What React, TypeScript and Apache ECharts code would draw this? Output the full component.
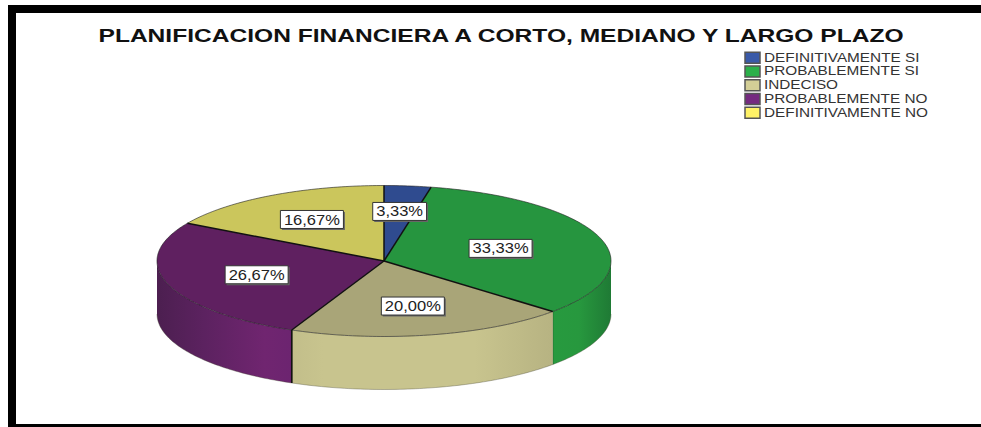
import React, { useEffect, useRef } from "react";
import * as echarts from "echarts";

const TITLE = "PLANIFICACION FINANCIERA A CORTO, MEDIANO Y LARGO PLAZO";
const categories = ["DEFINITIVAMENTE SI", "PROBABLEMENTE SI", "INDECISO", "PROBABLEMENTE NO", "DEFINITIVAMENTE NO"];
const values = [3.33, 33.33, 20.0, 26.67, 16.67];
const labels = ["3,33%", "33,33%", "20,00%", "26,67%", "16,67%"];
const labelRadius = [0.66, 0.54, 0.61, 0.59, 0.635];
const legendColors = ["#3a5aa8", "#2bb04a", "#d3ce96", "#752a80", "#fff266"];
const topColors = ["#2f4b8f", "#26953f", "#a9a578", "#5f2060", "#cbc65c"];
const wallStops: [number, string][][] = [
  [[0, "#2f4b8f"], [1, "#2f4b8f"]],
  [[0, "#279a3f"], [0.45, "#27983e"], [1, "#1f7a35"]],
  [[0, "#c2be8a"], [0.12, "#c8c48e"], [0.7, "#c8c48e"], [1, "#b7b382"]],
  [[0, "#4c1f50"], [0.35, "#5c2260"], [0.8, "#702570"], [1, "#6c2470"]],
  [[0, "#cbc65c"], [1, "#cbc65c"]],
];

const W = 981, H = 427;
const CX = 384, CY = 261, RX = 227, RY = 75.5, DEPTH = 53;
const FONT = "Liberation Sans";
const LABEL_FONT = 14, LABEL_SCALE = 1.18;

const total = values.reduce((a, b) => a + b, 0);
const starts = values.map((_, i) => (values.slice(0, i).reduce((a, b) => a + b, 0) / total) * 360);
const ends = values.map((v, i) => starts[i] + (v / total) * 360);
const rad = (d: number) => (d * Math.PI) / 180;
const px = (a: number, f = 1) => CX + RX * f * Math.sin(rad(a));
const py = (a: number, f = 1) => CY - RY * f * Math.cos(rad(a));

function arc(a0: number, a1: number, dy = 0) {
  const pts: number[][] = [];
  const n = Math.max(2, Math.ceil(Math.abs(a1 - a0)));
  for (let k = 0; k <= n; k++) {
    const a = a0 + ((a1 - a0) * k) / n;
    pts.push([px(a), py(a) + dy]);
  }
  return pts;
}

function renderWall(params: any) {
  const i = params.dataIndex;
  const a0 = Math.max(starts[i], 90), a1 = Math.min(ends[i], 270);
  if (a1 <= a0) return { type: "group", children: [] };
  const points = [...arc(a0, a1), ...arc(a1, a0, DEPTH)];
  const children: any[] = [{
    type: "polygon",
    shape: { points },
    style: {
      fill: new echarts.graphic.LinearGradient(0, 0, 1, 0, wallStops[i].map(([offset, color]) => ({ offset, color }))),
      stroke: "none",
    },
  }, {
    type: "polyline",
    shape: { points: arc(a0, a1, DEPTH) },
    style: { fill: "none", stroke: "rgba(70,70,50,0.45)", lineWidth: 0.8 },
  }];
  if (ends[i] < 270) {
    children.push({
      type: "line",
      shape: { x1: px(a1), y1: py(a1), x2: px(a1), y2: py(a1) + DEPTH },
      style: { stroke: "rgba(30,40,20,0.6)", lineWidth: 1 },
    });
  } else if (starts[i] > 90 && starts[i] < 270) {
    children.push({
      type: "line",
      shape: { x1: px(a0), y1: py(a0), x2: px(a0), y2: py(a0) + DEPTH },
      style: { stroke: "#111", lineWidth: 1.6 },
    });
  }
  return { type: "group", children };
}

function renderTop(params: any) {
  const i = params.dataIndex;
  const outer = arc(starts[i], ends[i]);
  return {
    type: "group",
    children: [
      { type: "polygon", shape: { points: [[CX, CY], ...outer] }, style: { fill: topColors[i], stroke: "none" } },
      { type: "polyline", shape: { points: outer }, style: { fill: "none", stroke: "rgba(30,30,30,0.6)", lineWidth: 1 } },
    ],
  };
}

function renderSpoke(params: any) {
  const a = starts[params.dataIndex];
  return {
    type: "line",
    shape: { x1: CX, y1: CY, x2: px(a), y2: py(a) },
    style: { stroke: "#111", lineWidth: 1.5 },
  };
}

function textWidth(s: string) {
  let w = 0;
  for (const c of s) w += c === "," ? 0.278 : c === "%" ? 0.889 : 0.556;
  return w * LABEL_FONT * LABEL_SCALE;
}

function renderLabel(params: any) {
  const i = params.dataIndex;
  const mid = (starts[i] + ends[i]) / 2;
  const x = px(mid, labelRadius[i]), y = py(mid, labelRadius[i]);
  const bw = textWidth(labels[i]) + 7, bh = 18;
  return {
    type: "group",
    x, y,
    children: [
      { type: "rect", shape: { x: -bw / 2 + 1.5, y: -bh / 2 + 1.5, width: bw, height: bh }, style: { fill: "#666" } },
      { type: "rect", shape: { x: -bw / 2, y: -bh / 2, width: bw, height: bh }, style: { fill: "#fff", stroke: "#333", lineWidth: 1 } },
      {
        type: "text",
        scaleX: LABEL_SCALE,
        style: {
          x: 0, y: 0, text: labels[i], align: "center", verticalAlign: "middle",
          fontFamily: FONT, fontSize: LABEL_FONT, fill: "#222",
        },
      },
    ],
  };
}

export default function App() {
  const ref = useRef<HTMLDivElement>(null);
  useEffect(() => {
    const chart = echarts.init(ref.current!, null, { renderer: "svg" });
    const layer = (name: string, z: number, renderItem: any) => ({
      type: "custom", name, coordinateSystem: "none", z, silent: true, data: values, renderItem,
    });
    const legendItems = categories.flatMap((name, i) => {
      const y = 57.8 + i * 13.75;
      return [
        { type: "rect", shape: { x: 745, y: y - 5.5, width: 15, height: 11 }, style: { fill: legendColors[i], stroke: "#555", lineWidth: 1.5 } },
        { type: "text", x: 764, y, scaleX: 1.278, style: { x: 0, y: 0, text: name, align: "left", verticalAlign: "middle", fontFamily: FONT, fontSize: 12, fill: "#333" } },
      ];
    });
    chart.setOption({
      animation: false,
      backgroundColor: "#fff",
      graphic: [
        { type: "rect", z: 10, shape: { x: 8, y: 5, width: 973, height: 8 }, style: { fill: "#000" } },
        { type: "rect", z: 10, shape: { x: 8, y: 5, width: 8, height: 422 }, style: { fill: "#000" } },
        { type: "rect", z: 10, shape: { x: 8, y: 424, width: 973, height: 3 }, style: { fill: "#000" } },
        {
          type: "text", z: 10, x: 501, y: 36, scaleX: 1.293,
          style: { x: 0, y: 0, text: TITLE, align: "center", verticalAlign: "middle", fontFamily: FONT, fontWeight: "bold", fontSize: 19, fill: "#111" },
        },
        ...legendItems,
      ],
      series: [
        layer("walls", 2, renderWall),
        layer("tops", 3, renderTop),
        layer("spokes", 4, renderSpoke),
        layer("labels", 5, renderLabel),
      ],
    });
    return () => chart.dispose();
  }, []);
  return <div ref={ref} style={{ position: "fixed", left: 0, top: 0, width: W, height: H }} />;
}
